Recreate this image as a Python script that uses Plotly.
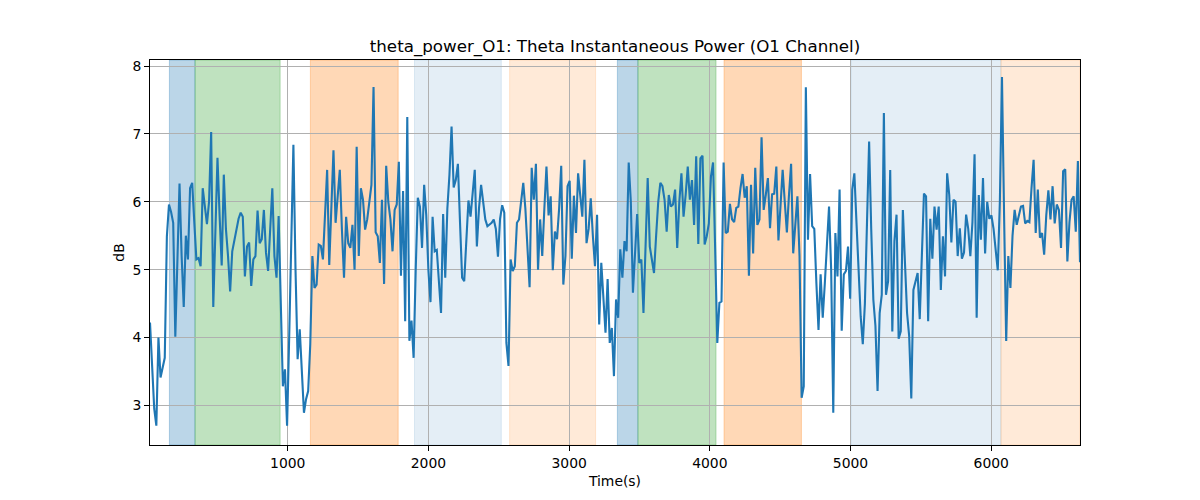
import numpy as np
import plotly.graph_objects as go

# ---- data ----
seg1 = [4.22,3.6,2.95,2.70,4.0,3.41,3.55,3.7,5.49,5.96,
        5.85,5.69,4.01,5.0,6.27,5.2,4.45,5.5,5.15,6.2,
        6.28,5.7,5.15,5.17,5.05,6.2,5.9,5.67,6.0,7.03,
        4.45,5.4,6.65,5.8,5.06,6.4,5.6,5.2,4.68,5.27,
        5.44,5.6,5.75,5.84,5.78,4.9,5.34,5.40,4.76,5.15,
        5.2,5.87,5.39,5.45,5.88]
seg2 = [5.25,4.98,5.6,6.2,5.2,4.88,5.79,4.5,3.28,3.53,
        2.70,4.0,5.5,6.84,5.0,3.68,4.12,3.43,2.89,3.09,
        3.21,3.9,5.2,4.73,4.78,5.37,5.35,5.15,5.8,6.47,
        5.07,6.0,6.76,5.69,6.1,6.47,5.6,4.88,5.78,5.39,
        5.32,5.66,5.0,6.81,5.2,6.2,6.03,5.59,5.74,6.03,
        6.25,7.69,5.55,5.49,5.1]
seg3 = [6.03,4.79,6.53,6.0,5.74,5.27,5.88,5.96,6.59,4.91,
        6.16,4.24,7.25,3.95,4.25,3.70,5.0,6.06,5.93,5.32,
        6.25,5.8,5.0,4.52,5.78,5.27,5.29,4.75,4.36,5.82,
        4.88,5.9,6.4,7.11,6.21,6.32,6.56,5.7,4.88,4.83,
        5.5,6.02,5.78,6.1,6.47,5.34,5.9,6.25,5.95,5.74,
        5.64,5.66,5.69,5.74]
seg4 = [5.6,5.19,5.75,5.95,5.84,3.92,3.58,5.15,4.98,5.05,
        5.69,5.74,6.0,6.28,5.9,5.2,4.74,6.5,6.03,6.56,
        5.0,5.74,5.2,5.9,6.52,5.8,6.08,4.99,5.56,5.45,
        5.9,6.53,4.78,5.2,6.23,6.31,5.16,6.09,5.54,6.42,
        6.1,5.78,6.62,5.39,5.6,6.05,5.5,5.05,5.81,4.19,
        5.1,4.58,4.07,4.86,3.92]
seg5 = [4.14,3.43,4.56,4.29,5.3,4.88,5.42,5.27,6.58,6.0,
        4.66,5.3,5.82,5.1,5.15,4.36,5.4,6.35,5.34,5.15,
        4.95,5.5,6.0,6.28,6.23,6.03,5.56,6.1,5.93,5.96,
        6.18,5.32,6.0,6.42,5.78,6.1,6.52,6.03,6.32,5.66,
        6.67,5.38,6.64,6.68,5.37,5.49,5.68,6.37,6.58,5.3,
        3.92,4.51,4.53]
seg6 = [6.58,5.54,5.56,5.97,5.74,5.7,5.91,5.93,6.2,6.41,
        6.06,6.23,4.91,6.25,5.24,6.5,5.66,5.74,6.95,5.88,
        6.1,6.35,5.61,6.11,6.12,6.52,5.43,6.0,6.47,6.0,
        5.55,6.1,6.56,5.24,5.7,6.08,5.2,3.11,3.28,7.69,
        5.44,6.41,5.64,5.6,4.8,4.11,4.93,4.29,4.8,5.4,
        5.93,5.0,2.89,5.54,4.9]
seg7 = [6.18,4.1,4.93,4.98,5.34,4.57,6.18,6.42,5.7,4.9,
        4.31,3.9,4.5,5.7,6.89,5.6,4.56,4.17,3.21,4.36,
        4.63,7.31,4.63,4.83,6.47,4.09,5.42,5.81,3.98,4.09,
        5.88,5.1,4.36,4.02,3.1,4.7,4.84,4.95,4.27,5.2,
        6.12,6.08,4.24,5.75,5.16,5.93,5.59,5.93,4.7,5.49,
        4.9,6.42,6.1,5.4]
seg8 = [6.03,6.0,5.2,5.61,5.16,5.25,5.81,5.6,5.2,5.7,
        6.7,4.29,6.1,5.44,6.35,5.24,6.0,5.75,5.8,5.6,
        5.3,4.99,6.0,7.84,5.8,3.95,5.2,4.73,5.5,5.88,
        5.66,5.78,5.93,5.94,5.68,5.72,5.7,6.2,6.62,5.54,
        6.18,5.47,5.54,5.22,5.8,6.17,5.74,6.23,5.68,5.96,
        5.88,5.32,6.45,6.48,5.12,5.7,6.03,6.08,5.56,6.6,
        5.11]
power_db = seg1 + seg2 + seg3 + seg4 + seg5 + seg6 + seg7 + seg8

t_first, t_last = 21, 6631
time_s = np.linspace(t_first, t_last, len(power_db))

span_starts = [159, 341, 1161, 1901, 2577, 3343, 3489, 4101, 5007, 6069]
span_ends   = [341, 946, 1785, 2518, 3188, 3489, 4044, 4651, 6069, 6631]
span_kinds  = ["blue", "green", "orange", "lightblue", "lightorange",
               "blue", "green", "orange", "lightblue", "lightorange"]

x_ticks = [1000, 2000, 3000, 4000, 5000, 6000]
y_ticks = [3, 4, 5, 6, 7, 8]

kind_style = {
    "blue": "rgba(31,119,180,0.3)",
    "green": "rgba(44,160,44,0.3)",
    "orange": "rgba(255,127,14,0.3)",
    "lightblue": "rgba(31,119,180,0.12)",
    "lightorange": "rgba(255,127,14,0.16)",
}

fig = go.Figure()
fig.add_trace(go.Scatter(x=time_s, y=power_db, mode="lines",
                         line=dict(color="#1f77b4", width=2.1),
                         showlegend=False, hoverinfo="x+y"))

for s, e, k in zip(span_starts, span_ends, span_kinds):
    fig.add_shape(type="rect", xref="x", yref="paper", x0=s, x1=e, y0=0, y1=1,
                  fillcolor=kind_style[k], line=dict(color=kind_style[k], width=1),
                  layer="below")

font = "DejaVu Sans, Arial, sans-serif"
fig.update_layout(
    width=1200, height=500,
    margin=dict(l=150, r=120, t=60, b=55),
    paper_bgcolor="white", plot_bgcolor="white",
    font=dict(family=font, size=13.9, color="black"),
    title=dict(text="theta_power_O1: Theta Instantaneous Power (O1 Channel)",
               x=0.5, xref="paper", xanchor="center", y=1 - 46 / 500, yanchor="middle",
               yref="container", font=dict(size=16.7, family=font, color="black")),
)
fig.update_xaxes(range=[t_first, t_last], tickvals=x_ticks,
                 showgrid=True, gridcolor="#b0b0b0", gridwidth=0.8,
                 showline=True, linecolor="black", linewidth=1, mirror=True,
                 ticks="outside", ticklen=4.9, tickcolor="black",
                 zeroline=False,
                 title=dict(text="Time(s)", standoff=6, font=dict(size=13.9)))
fig.update_yaxes(range=[2.415, 8.09], tickvals=y_ticks,
                 showgrid=True, gridcolor="#b0b0b0", gridwidth=0.8,
                 showline=True, linecolor="black", linewidth=1, mirror=True,
                 ticks="outside", ticklen=4.9, tickcolor="black",
                 zeroline=False,
                 title=dict(text="dB", standoff=4, font=dict(size=13.9)))

fig.write_html("out.html", config={"displayModeBar": False},
               post_script="document.body.style.margin='0';")
